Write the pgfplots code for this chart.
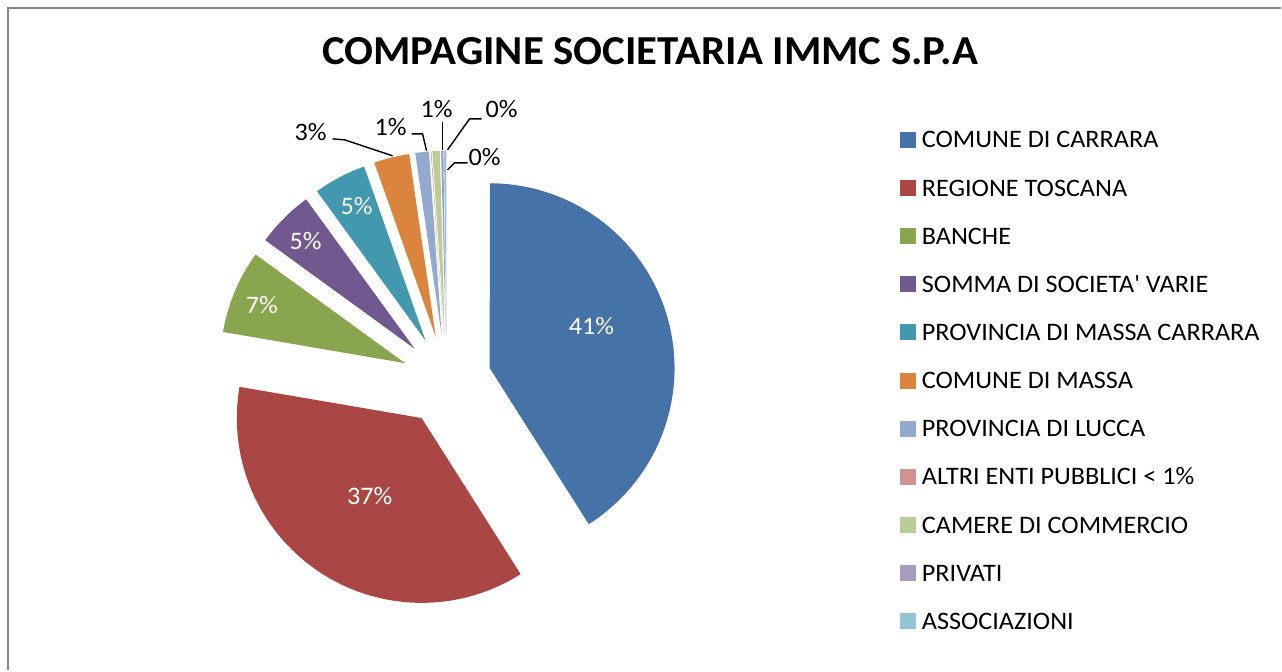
\documentclass[border=0pt]{standalone}
\usepackage{pgfplots}
\pgfplotsset{compat=1.18}
\usepackage{fontspec}
\setmainfont[FakeStretch=1.04, Ligatures=TeXOff]{Carlito}
\definecolor{c1}{HTML}{4572A7}
\definecolor{c2}{HTML}{AA4643}
\definecolor{c3}{HTML}{89A54E}
\definecolor{c4}{HTML}{71588F}
\definecolor{c5}{HTML}{4198AF}
\definecolor{c6}{HTML}{DB843D}
\definecolor{c7}{HTML}{93A9CF}
\definecolor{c8}{HTML}{D19392}
\definecolor{c9}{HTML}{B9CD96}
\definecolor{c10}{HTML}{A99BBD}
\definecolor{c11}{HTML}{92C5D4}
\definecolor{bordergray}{RGB}{134,134,134}
% pie geometry in pixel units: centre, radius, explosion offset
\def\pcx{447}\def\pcy{290}\def\pr{185}\def\pd{45}
\gdef\cum{0}
\newcommand{\pieslice}[3]{% value, colour, legend text
  \pgfmathsetmacro{\sa}{90-3.6*\cum}%
  \pgfmathsetmacro{\sb}{90-3.6*(\cum+#1)}%
  \pgfmathsetmacro{\sm}{(\sa+\sb)/2}%
  \pgfmathsetmacro{\ox}{\pcx+\pd*cos(\sm)}%
  \pgfmathsetmacro{\oy}{\pcy+\pd*sin(\sm)}%
  \edef\doslice{\noexpand\addplot[fill=#2, draw=none, domain=\sb:\sa, samples=90]
    ({\ox+\pr*cos(x)},{\oy+\pr*sin(x)}) -- (axis cs:\ox,\oy) -- cycle;}%
  \doslice
  \addlegendentry{#3}%
  \pgfmathsetmacro{\newcum}{\cum+#1}\xdef\cum{\newcum}%
}
\begin{document}
\begin{tikzpicture}
\begin{axis}[
  width=641bp, height=335.5bp, scale only axis,
  xmin=0, xmax=1282, ymin=0, ymax=671,
  hide axis, clip=false,
  legend image code/.code={\fill[#1] (0bp,-4bp) rectangle (8bp,4bp);},
  legend cell align=left,
  legend style={draw=none, fill=none, inner sep=0pt, outer sep=0pt,
    at={(axis cs:901,539)}, anchor=north west,
    font=\fontsize{12.6bp}{15bp}\selectfont,
    row sep=16.1bp,
    nodes={inner sep=0pt, text height=8bp, text depth=0pt},
    /tikz/every odd column/.append style={column sep=2.9bp}},
]
\path (axis cs:0,0) rectangle (axis cs:1282,671);
% border
\addplot[bordergray, line width=1.25bp, forget plot] coordinates {(8,0) (8,663) (1282,663)};
% slices (percent shares)
\pieslice{41.0}{c1}{COMUNE DI CARRARA}
\pieslice{36.7}{c2}{REGIONE TOSCANA}
\pieslice{7.3}{c3}{BANCHE}
\pieslice{5.0}{c4}{SOMMA DI SOCIETA' VARIE}
\pieslice{4.6}{c5}{PROVINCIA DI MASSA CARRARA}
\pieslice{3.1}{c6}{COMUNE DI MASSA}
\pieslice{1.2}{c7}{PROVINCIA DI LUCCA}
\pieslice{0.05}{c8}{ALTRI ENTI PUBBLICI < 1\%}
\pieslice{0.65}{c9}{CAMERE DI COMMERCIO}
\pieslice{0.2}{c10}{PRIVATI}
\pieslice{0.2}{c11}{ASSOCIAZIONI}
% leader lines
\addplot[black, line width=0.7bp, forget plot] coordinates {(333,532) (345,531) (393,515)};
\addplot[black, line width=0.7bp, forget plot] coordinates {(412,537) (423,537) (427,520)};
\addplot[black, line width=0.7bp, forget plot] coordinates {(443,549) (443,521)};
\addplot[black, line width=0.7bp, forget plot] coordinates {(482,552) (470,552) (448,521)};
\addplot[black, line width=0.7bp, forget plot] coordinates {(468,508) (455,508) (448,501)};
% title and labels
\node[font=\fontsize{20.6bp}{24bp}\selectfont\bfseries, anchor=base] at (axis cs:651,606) {COMPAGINE SOCIETARIA IMMC S.P.A};
\begin{scope}[every node/.style={font=\fontsize{12.6bp}{15bp}\selectfont, inner sep=0pt}]
\node[white] at (axis cs:592,345) {41\%};
\node[white] at (axis cs:370,175) {37\%};
\node[white] at (axis cs:262,366) {7\%};
\node[white] at (axis cs:306,430) {5\%};
\node[white] at (axis cs:357,465) {5\%};
\node at (axis cs:311,539) {3\%};
\node at (axis cs:391,544) {1\%};
\node at (axis cs:437,562) {1\%};
\node at (axis cs:502,562) {0\%};
\node at (axis cs:485,514) {0\%};
\end{scope}
\end{axis}
\end{tikzpicture}
\end{document}
